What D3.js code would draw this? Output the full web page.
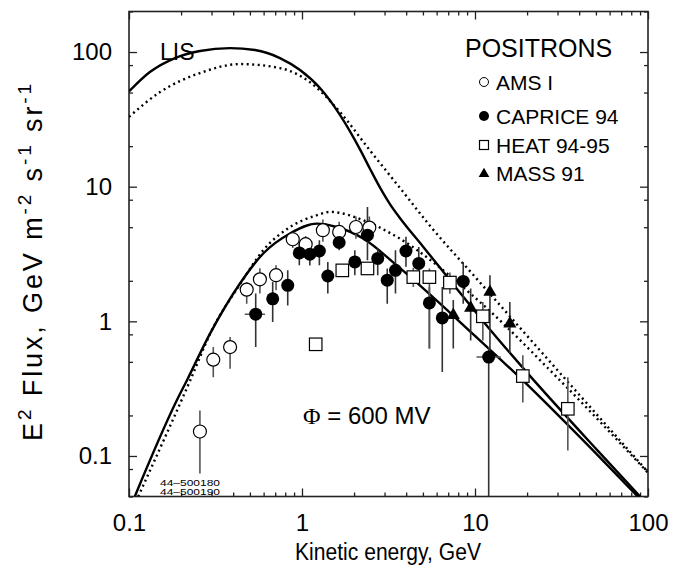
<!DOCTYPE html>
<html><head><meta charset="utf-8">
<script src="https://cdnjs.cloudflare.com/ajax/libs/d3/7.8.5/d3.min.js"></script>
<style>
body{margin:0;background:#fff}
text{font-family:"Liberation Sans",Arial,Helvetica,sans-serif;fill:#000}
</style>
</head><body>
<svg id="c" width="673" height="572"></svg>
<script>
// ---------- data ----------
const xMajor = [0.1, 1, 10, 100];
const yMajor = [0.1, 1, 10, 100];
const xTickLabels = ["0.1", "1", "10", "100"];
const yTickLabels = ["0.1", "1", "10", "100"];

// AMS I (open circles)
const amsE  = [0.257, 0.307, 0.384, 0.479, 0.571, 0.708, 0.884, 1.05, 1.32, 1.64, 2.05, 2.45];
const amsF  = [0.152, 0.519, 0.644, 1.72, 2.05, 2.20, 4.07, 3.74, 4.75, 4.61, 5.02, 4.97];
const amsHi = [0.218, 0.644, 0.764, 1.96, 2.48, 2.61, 4.6, 4.3, 5.7, 5.5, 6.0, 6.0];
const amsLo = [0.074, 0.385, 0.445, 1.35, 1.61, 1.70, 3.5, 3.2, 3.9, 3.8, 4.1, 4.0];

// CAPRICE 94 (filled circles)
const capE  = [0.540, 0.677, 0.827, 0.965, 1.11, 1.26, 1.41, 1.64, 2.02, 2.39, 2.74, 3.11, 3.47, 3.99, 4.73, 5.45, 6.47, 8.55, 12.0];
const capF  = [1.13, 1.47, 1.85, 3.22, 3.15, 3.33, 2.17, 3.85, 2.76, 4.36, 2.93, 2.02, 2.39, 3.33, 2.69, 1.37, 1.06, 1.98, 0.543];
const capHi = [1.61, 1.96, 2.39, 3.78, 3.7, 4.0, 2.76, 4.49, 3.37, 7.07, 3.47, 2.47, 3.37, 4.24, 3.56, 1.80, 1.80, 2.76, 0.644];
const capLo = [0.644, 0.99, 1.31, 2.61, 2.6, 2.61, 1.61, 3.37, 2.20, 2.84, 2.20, 1.35, 1.61, 2.54, 2.02, 0.627, 0.42, 1.35, 0.001];
const capELo = [0.467, null, null, null, null, null, null, null, null, null, null, null, null, null, null, null, null, 8.1, 10.2];
const capEHi = [0.611, null, null, null, null, null, null, null, null, null, null, null, null, null, null, null, null, 9.3, 14.1];

// HEAT 94-95 (open squares)
const heatE  = [1.20, 1.71, 2.39, 4.40, 5.45, 7.16, 11.1, 18.9, 34.4];
const heatF  = [0.675, 2.39, 2.47, 2.13, 2.13, 1.94, 1.09, 0.392, 0.224];
const heatHi = [0.70, 2.5, 2.6, 2.5, 2.47, 2.3, 1.39, 0.56, 0.385];
const heatLo = [0.65, 2.25, 2.3, 1.8, 0.627, 1.6, 0.72, 0.25, 0.11];

// MASS 91 (filled triangles)
const massE  = [7.49, 9.44, 12.2, 15.9];
const massF  = [1.13, 1.28, 1.68, 0.978];
const massHi = [1.44, 1.75, 2.20, 1.39];
const massLo = [0.627, 0.72, 0.54, 0.58];

// curves: energy (GeV) and E^2 flux
const lisSolidE = [0.1, 0.132, 0.1845, 0.257, 0.384, 0.535, 0.746, 0.974, 1.27, 1.66, 2.16, 2.47, 2.83, 3.23, 3.68, 5.0, 7.87, 12.2, 20, 50.7, 90];
const lisSolidF = [51, 71, 90.2, 101.7, 107, 103.5, 90.2, 73.5, 54, 34, 19.0, 13.6, 9.8, 7.4, 5.86, 3.60, 1.74, 0.87, 0.416, 0.111, 0.050];
const lisDotE = [0.1, 0.151, 0.257, 0.438, 0.746, 1.11, 1.66, 2.46, 3.68, 5.46, 10, 30, 100];
const lisDotF = [33, 50.4, 69.8, 81.4, 76, 59.8, 35.8, 18.7, 9.8, 5.17, 2.14, 0.433, 0.076];
const modSolidE = [0.108, 0.189, 0.216, 0.294, 0.438, 0.597, 0.852, 1.22, 1.59, 2.26, 3.53, 10, 18.9, 48.1, 90];
const modSolidF = [0.05, 0.259, 0.364, 0.81, 1.91, 3.19, 4.49, 5.32, 5.02, 4.12, 2.6, 0.78, 0.364, 0.11, 0.048];
const modDotE = [0.113, 0.225, 0.30, 0.44, 0.6, 0.85, 1.22, 1.45, 2.26, 3.53, 10, 30, 100];
const modDotF = [0.05, 0.36, 0.85, 1.9, 3.4, 5.0, 6.14, 6.5, 5.64, 4.24, 1.5, 0.38, 0.075];

// ---------- layout ----------
const svg = d3.select("#c");
const L = 129, R = 648, T = 11.5, B = 496.5;
const x = d3.scaleLog().domain([0.1, 100]).range([L, R]);
const y = d3.scaleLog().domain([0.05, 200]).range([B, T]);

svg.append("defs").append("clipPath").attr("id", "clip")
  .append("rect").attr("x", L).attr("y", T).attr("width", R - L).attr("height", B - T);

const xMinor = [];
for (let d = 0.1; d < 100; d *= 10) for (let k = 2; k <= 9; k++) xMinor.push(+(d * k).toPrecision(3));
const yMinor = [];
for (let d = 0.01; d < 200; d *= 10) for (const k of [2, 5, 8]) { const v = +(d * k).toPrecision(3); if (v >= 0.05 && v <= 200) yMinor.push(v); }

const majLen = 8, minLen = 4;
function axisGroup(gen, tx, ty) {
  return svg.append("g").attr("transform", `translate(${tx},${ty})`).call(gen);
}
const fmtX = d => xTickLabels[xMajor.indexOf(d)];
const fmtY = d => yTickLabels[yMajor.indexOf(d)];

axisGroup(d3.axisBottom(x).tickValues(xMajor).tickFormat(fmtX).tickSize(-majLen).tickPadding(17), 0, B);
axisGroup(d3.axisBottom(x).tickValues(xMinor).tickFormat("").tickSize(-minLen), 0, B);
axisGroup(d3.axisTop(x).tickValues(xMajor).tickFormat("").tickSize(-majLen), 0, T);
axisGroup(d3.axisTop(x).tickValues(xMinor).tickFormat("").tickSize(-minLen), 0, T);
axisGroup(d3.axisLeft(y).tickValues(yMajor).tickFormat(fmtY).tickSize(-majLen).tickPadding(17), L, 0);
axisGroup(d3.axisLeft(y).tickValues(yMinor).tickFormat("").tickSize(-minLen), L, 0);
axisGroup(d3.axisRight(y).tickValues(yMajor).tickFormat("").tickSize(-majLen), R, 0);
axisGroup(d3.axisRight(y).tickValues(yMinor).tickFormat("").tickSize(-minLen), R, 0);

svg.selectAll(".domain").remove();
svg.selectAll(".tick line").attr("stroke", "#222").attr("stroke-width", 1.3);
svg.selectAll(".tick text").attr("font-size", 24).attr("font-family", '"Liberation Sans",Arial,sans-serif').attr("fill", "#000");

svg.append("rect").attr("x", L).attr("y", T).attr("width", R - L).attr("height", B - T)
  .attr("fill", "none").attr("stroke", "#222").attr("stroke-width", 1.6);

// ---------- curves ----------
const line = d3.line().x(d => x(d[0])).y(d => y(d[1])).curve(d3.curveMonotoneX);
const plot = svg.append("g").attr("clip-path", "url(#clip)");
function curve(E, F, dotted) {
  plot.append("path").datum(E.map((e, i) => [e, F[i]])).attr("d", line)
    .attr("fill", "none").attr("stroke", "#000")
    .attr("stroke-width", 2.4)
    .attr("stroke-dasharray", dotted ? "2,3.5" : null);
}
curve(lisSolidE, lisSolidF, false);
curve(lisDotE, lisDotF, true);
curve(modSolidE, modSolidF, false);
curve(modDotE, modDotF, true);

// ---------- data points ----------
const errColor = "#555";
function errBars(E, F, Lo, Hi, color) {
  E.forEach((e, i) => {
    plot.append("line").attr("x1", x(e)).attr("x2", x(e))
      .attr("y1", y(Math.max(Lo[i], 0.001))).attr("y2", y(Hi[i]))
      .attr("stroke", color || errColor).attr("stroke-width", 1.6);
  });
}
function hBars(E, F, ELo, EHi) {
  E.forEach((e, i) => {
    if (ELo[i] == null) return;
    plot.append("line").attr("x1", x(ELo[i])).attr("x2", x(EHi[i]))
      .attr("y1", y(F[i])).attr("y2", y(F[i]))
      .attr("stroke", errColor).attr("stroke-width", 1.6);
  });
}
errBars(amsE, amsF, amsLo, amsHi);
errBars(capE, capF, capLo, capHi, "#333");
hBars(capE, capF, capELo, capEHi);
errBars(heatE, heatF, heatLo, heatHi);
errBars(massE, massF, massLo, massHi, "#333");

const circR = 6.5, sq = 12.5;
plot.selectAll(".ams").data(amsE).enter().append("circle")
  .attr("cx", d => x(d)).attr("cy", (d, i) => y(amsF[i])).attr("r", circR)
  .attr("fill", "#fff").attr("stroke", "#000").attr("stroke-width", 1.2);
plot.selectAll(".heat").data(heatE).enter().append("rect")
  .attr("x", d => x(d) - sq / 2).attr("y", (d, i) => y(heatF[i]) - sq / 2)
  .attr("width", sq).attr("height", sq)
  .attr("fill", "#fff").attr("stroke", "#000").attr("stroke-width", 1.2);
plot.selectAll(".cap").data(capE).enter().append("circle")
  .attr("cx", d => x(d)).attr("cy", (d, i) => y(capF[i])).attr("r", circR)
  .attr("fill", "#000");
const tri = d3.symbol().type(d3.symbolTriangle).size(75);
plot.selectAll(".mass").data(massE).enter().append("path")
  .attr("d", tri).attr("transform", (d, i) => `translate(${x(d)},${y(massF[i]) + 1})`)
  .attr("fill", "#000");

// ---------- texts ----------
svg.append("text").attr("x", 160).attr("y", 60).attr("font-size", 23).text("LIS");
svg.append("text").attr("x", 465).attr("y", 57).attr("font-size", 25).text("POSITRONS");

const legRows = [
  {label: "AMS I", y: 82, kind: "open"},
  {label: "CAPRICE 94", y: 116, kind: "fill"},
  {label: "HEAT 94-95", y: 145, kind: "sq"},
  {label: "MASS 91", y: 173, kind: "tri"}
];
const lx = 484;
legRows.forEach(r => {
  if (r.kind === "open") svg.append("circle").attr("cx", lx).attr("cy", r.y).attr("r", 4.5).attr("fill", "#fff").attr("stroke", "#000").attr("stroke-width", 1);
  if (r.kind === "fill") svg.append("circle").attr("cx", lx).attr("cy", r.y).attr("r", 5).attr("fill", "#000");
  if (r.kind === "sq") svg.append("rect").attr("x", lx - 4.5).attr("y", r.y - 4.5).attr("width", 9).attr("height", 9).attr("fill", "#fff").attr("stroke", "#000").attr("stroke-width", 1.2);
  if (r.kind === "tri") svg.append("path").attr("d", d3.symbol().type(d3.symbolTriangle).size(50)).attr("transform", `translate(${lx},${r.y + 1})`).attr("fill", "#000");
  svg.append("text").attr("x", 496).attr("y", r.y + 7.5).attr("font-size", 21).text(r.label);
});

const phi = svg.append("text").attr("x", 303).attr("y", 424).attr("font-size", 24);
phi.append("tspan").attr("font-family", '"Liberation Serif","Times New Roman",serif').text("Φ");
phi.append("tspan").text(" = 600 MV");

svg.append("text").attr("x", 160).attr("y", 485.5).attr("font-size", 9).attr("textLength", 60).attr("lengthAdjust", "spacingAndGlyphs").text("44–500180");
svg.append("text").attr("x", 160).attr("y", 494.5).attr("font-size", 9).attr("textLength", 60).attr("lengthAdjust", "spacingAndGlyphs").text("44–500190");

svg.append("text").attr("x", 388).attr("y", 560).attr("text-anchor", "middle").attr("font-size", 23)
  .attr("textLength", 186).attr("lengthAdjust", "spacingAndGlyphs").text("Kinetic energy, GeV");

const yl = svg.append("text").attr("transform", "translate(42,261) rotate(-90)").attr("text-anchor", "middle").attr("font-size", 27);
yl.append("tspan").text("E");
yl.append("tspan").attr("dy", -11).attr("font-size", 19).text("2");
yl.append("tspan").attr("dy", 11).text(" Flux, GeV m");
yl.append("tspan").attr("dy", -11).attr("font-size", 19).text("-2");
yl.append("tspan").attr("dy", 11).text(" s");
yl.append("tspan").attr("dy", -11).attr("font-size", 19).text("-1");
yl.append("tspan").attr("dy", 11).text(" sr");
yl.append("tspan").attr("dy", -11).attr("font-size", 19).text("-1");
const natural = yl.node().getComputedTextLength();
const nCh = yl.text().length;
yl.attr("letter-spacing", Math.max(0, (360 - natural) / nCh));
</script>
</body></html>
